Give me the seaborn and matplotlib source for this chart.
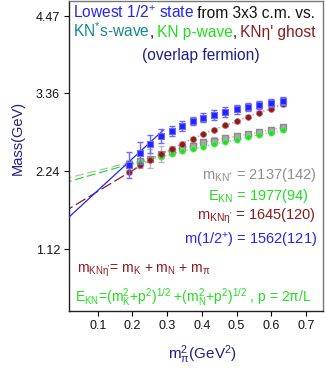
import numpy as np
import pandas as pd
import matplotlib
matplotlib.use("Agg")
import matplotlib.pyplot as plt
import seaborn as sns

# ---------------- data ----------------
mpi2 = [0.191, 0.222, 0.252, 0.282, 0.313, 0.342, 0.374, 0.404, 0.435, 0.467,
        0.501, 0.533, 0.566, 0.599, 0.633]
m_half = [2.33, 2.50, 2.63, 2.74, 2.82, 2.89, 2.965, 3.01, 3.05, 3.085,
          3.13, 3.16, 3.19, 3.22, 3.245]
m_half_err = [0.19, 0.155, 0.13, 0.10, 0.075, 0.075, 0.055, 0.065, 0.075, 0.07,
              0.065, 0.06, 0.06, 0.06, 0.06]
m_kneta = [2.23, 2.325, 2.405, 2.485, 2.56, 2.635, 2.705, 2.775, 2.835, 2.90,
           2.955, 3.025, 3.08, 3.14, 3.20]
m_kneta_err = [0.03, 0.025, 0.02, 0.02, 0.02, 0.02, 0.02, 0.02, 0.02, 0.02,
               0.02, 0.02, 0.02, 0.02, 0.02]
m_knstar = [2.34, 2.38, 2.42, 2.485, 2.535, 2.575, 2.605, 2.655, 2.68, 2.71,
            2.74, 2.77, 2.80, 2.83, 2.87]
m_knstar_err = [0.06, 0.09, 0.14, 0.11, 0.07, 0.06, 0.05, 0.05, 0.05, 0.045,
                0.045, 0.04, 0.04, 0.04, 0.04]
e_kn = [2.33, 2.365, 2.40, 2.45, 2.485, 2.524, 2.557, 2.593, 2.63, 2.66,
        2.69, 2.73, 2.762, 2.795, 2.825]
e_kn_err = [0.02] * 15

# chiral fits: (intercept at m_pi^2=0, slope, last x drawn)
fit_half = (1.50, 4.60, 0.290)
fit_kneta = (1.646, 3.02, 0.222)
fit_knstar = (2.124, 1.25, 0.191)
fit_ekn = (2.068, 1.41, 0.191)

yticks = [1.12, 2.24, 3.36, 4.47]
xticks = [0.1, 0.2, 0.3, 0.4, 0.5, 0.6, 0.7]

# ---------------- style ----------------
sns.set_theme(style="white")
plt.rcParams["font.family"] = ["Liberation Sans", "DejaVu Sans"]
plt.rcParams["mathtext.fontset"] = "custom"
plt.rcParams["mathtext.rm"] = "Liberation Sans"
plt.rcParams["mathtext.it"] = "Liberation Sans"
plt.rcParams["mathtext.bf"] = "Liberation Sans:bold"

BLUE = "#2323ff"
BLUE_L = "#6a6aff"
MAROON = "#8b1c1c"
MAROON_L = "#d08a8a"
GRAY = "#8f8f8f"
GRAY_L = "#b8b8b8"
GREEN = "#1fe01f"
GREEN_L = "#70f070"
TEAL = "#138a8a"
NAVY = "#1e1e8c"

W, H = 327, 382
fig = plt.figure(figsize=(W / 100, H / 100), dpi=100)
ax = fig.add_axes([69 / W, 1 - 311 / H, 254 / W, 310 / H])
ax.set_xlim(0.0173, 0.749)
ax.set_ylim(0.229, 4.686)

x0 = 0.0

# dashed / solid chiral extrapolations
def fit_line(fit, color, ls, dashes=None, lw=0.9, z=2):
    a, b, xe = fit
    xs = np.array([x0, xe])
    sns.lineplot(x=xs, y=a + b * xs, color=color, lw=lw, ax=ax, zorder=z)
    line = ax.lines[-1]
    line.set_linestyle(ls)
    if dashes is not None:
        line.set_dashes(dashes)

fit_line(fit_knstar, GRAY_L, "--", (7, 3))
fit_line(fit_ekn, GREEN, "--", (7, 3))
fit_line(fit_kneta, MAROON, "--", (9, 3))
fit_line(fit_half, BLUE, "-", None, lw=0.9, z=6)

# dotted connections
for ys, c in [(m_knstar, GRAY_L), (e_kn, GREEN_L), (m_kneta, MAROON_L)]:
    sns.lineplot(x=mpi2, y=ys, color=c, lw=1.0, ax=ax, zorder=2)
    ax.lines[-1].set_linestyle(":")

# error bars
ax.errorbar(mpi2, m_knstar, yerr=m_knstar_err, fmt="none", ecolor=GRAY_L,
            elinewidth=1, capsize=2.5, zorder=3)
ax.errorbar(mpi2, e_kn, yerr=e_kn_err, fmt="none", ecolor=GREEN_L,
            elinewidth=1, capsize=2.0, zorder=3)
ax.errorbar(mpi2, m_kneta, yerr=m_kneta_err, fmt="none", ecolor=MAROON_L,
            elinewidth=1, capsize=2.0, zorder=4)
ax.errorbar(mpi2, m_half, yerr=m_half_err, fmt="none", ecolor=BLUE_L,
            elinewidth=1, capsize=2.5, zorder=7)

# markers
sns.scatterplot(x=mpi2, y=m_knstar, marker="s", s=17, color="#a8a8a8",
                edgecolor="#8a8a8a", linewidth=0.9, ax=ax, zorder=4)
sns.scatterplot(x=mpi2, y=e_kn, marker="o", s=15, color=GREEN,
                edgecolor=GREEN_L, linewidth=0.5, ax=ax, zorder=5)
sns.scatterplot(x=mpi2, y=m_kneta, marker="o", s=17, color=MAROON,
                edgecolor="#b05a5a", linewidth=0.5, ax=ax, zorder=5)
sns.scatterplot(x=mpi2, y=m_half, marker="s", s=14, color=BLUE,
                edgecolor=BLUE_L, linewidth=0.8, ax=ax, zorder=8)

# axes styling
ax.set_xticks(xticks)
ax.set_xticklabels([f"{v:.1f}" for v in xticks])
ax.set_yticks(yticks)
ax.set_yticklabels([f"{v:.2f}" for v in yticks])
ax.tick_params(axis="both", which="both", direction="out", length=3.5,
               width=0.8, color="black", labelsize=9, pad=3,
               bottom=True, left=True, labelcolor="#111111")
for s in ["left", "bottom"]:
    ax.spines[s].set_color("#222222")
    ax.spines[s].set_linewidth(1.0)
for s in ["top", "right"]:
    ax.spines[s].set_color("#777777")
    ax.spines[s].set_linewidth(1.0)
ax.set_xlabel("")
ax.set_ylabel("")

def fx(px):
    return px / W

def fy(py):
    return 1 - py / H

fig.text(fx(18), fy(137.7), "Mass(GeV)", rotation=90, color=NAVY,
         fontsize=10.5, ha="center", va="center")
fig.text(fx(202), fy(355), r"m$_{\pi}^{2}$(GeV$^{2}$)", color=NAVY,
         fontsize=11, ha="center", va="center")

fig.canvas.draw()
renderer = fig.canvas.get_renderer()

def chain(pieces, px, py, size):
    x = fx(px)
    for txt, col in pieces:
        t = fig.text(x, fy(py), txt, color=col, fontsize=size,
                     ha="left", va="baseline")
        bb = t.get_window_extent(renderer)
        x = bb.x1 / W

chain([("Lowest 1/2$^{+}$ state", BLUE),
       ("\u2009from 3x3 c.m. vs.", "#111111")], 73, 18.5, 11.2)
chain([("KN$^{*}$s-wave", TEAL), (",", "#111111"),
       ("\u2009KN p-wave", GREEN), (",", "#111111"),
       ("\u2009KN\u03b7' ghost", MAROON)], 73, 37, 11.2)
fig.text(fx(200.5), fy(60), "(overlap fermion)", color=NAVY, fontsize=11.2,
         ha="center", va="baseline")

labels = [
    (r"$\mathrm{m_{KN^{*}}}$ = 2137(142)", GRAY, 259, 175),
    (r"$\mathrm{E_{KN}}$ = 1977(94)", GREEN, 258.5, 195.5),
    (r"$\mathrm{m_{KN\eta'}}$ = 1645(120)", MAROON, 256.7, 216.5),
    (r"m(1/2$^{+}$) = 1562(121)", BLUE, 250.7, 240.5),
]
for txt, col, px, py in labels:
    fig.text(fx(px), fy(py), txt, color=col, fontsize=10.5, ha="center",
             va="center")

fig.text(fx(77), fy(273), r"$\mathrm{m_{KN\eta'}}$= m$_{\mathrm{K}}$ + m$_{\mathrm{N}}$ + m$_{\pi}$",
         color=MAROON, fontsize=10, ha="left", va="baseline")
fig.text(fx(75), fy(301.5),
         r"$\mathrm{E_{KN}}$=(m$_{\mathrm{K}}^{2}$+p$^{2}$)$^{1/2}$ +(m$_{\mathrm{N}}^{2}$+p$^{2}$)$^{1/2}$ , p = 2π/L",
         color=GREEN, fontsize=10, ha="left", va="baseline")

fig.savefig("out.png", dpi=100)
